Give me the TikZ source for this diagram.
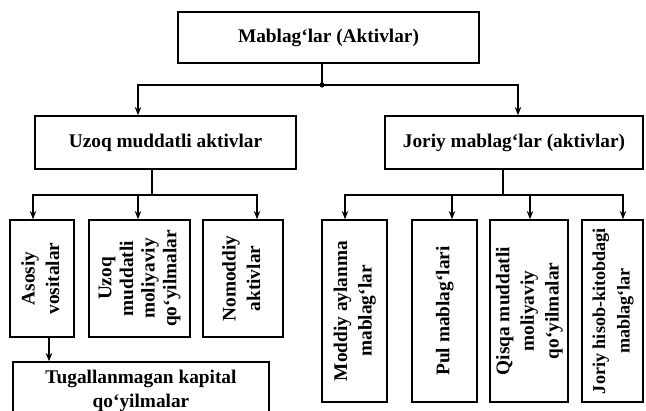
\documentclass[tikz,border=0pt]{standalone}
\usepackage{fontspec}
\setmainfont{Liberation Serif}
\usepackage{tikz}
\usetikzlibrary{arrows.meta,positioning}
\newcommand{\vtext}[1]{\rotatebox{90}{\begin{tabular}{@{}c@{}}#1\end{tabular}}}

\begin{document}
\begin{tikzpicture}[
  every node/.style={font=\bfseries\fontsize{16.5}{20}\selectfont},
  hbox/.style={draw,line width=1.3pt,inner sep=0pt,align=center},
  vbox/.style={draw,line width=1.3pt,inner sep=0pt,font=\bfseries\fontsize{16.5}{21}\selectfont},
  ln/.style={line width=1.2pt},
  arr/.style={->,>={Stealth[length=7pt,width=5.5pt]},line width=1.2pt}
]
\useasboundingbox (0,0) rectangle (19.38,-12.3);
\clip (0,0) rectangle (19.38,-12.3);

\node[hbox,minimum width=9.03cm,minimum height=1.53cm] (top) at (9.855,-1.125) {Mablag‘lar (Aktivlar)};
\node[hbox,minimum width=7.83cm,minimum height=1.59cm] (uzoq) at (4.965,-4.275) {Uzoq muddatli aktivlar};
\node[hbox,minimum width=7.74cm,minimum height=1.59cm] (joriy) at (15.42,-4.275) {Joriy mablag‘lar (aktivlar)};

% Uzoq muddatli
\node[vbox,minimum width=1.92cm,minimum height=3.51cm] (asosiy) at (1.26,-8.355) {\vtext{Asosiy\\vositalar}};
\node[vbox,minimum width=3.03cm,minimum height=3.51cm,font=\bfseries\fontsize{16.5}{18.5}\selectfont] (umq) at (4.185,-8.355) {\vtext{Uzoq\\muddatli\\moliyaviy\\qo‘yilmalar}};
\node[vbox,minimum width=2.4cm,minimum height=3.51cm] (nomoddiy) at (7.29,-8.355) {\vtext{Nomoddiy\\aktivlar}};
\node[hbox,minimum width=7.68cm,minimum height=1.74cm] (tug) at (4.23,-11.73) {Tugallanmagan kapital\\qo‘yilmalar};

% Joriy
\node[vbox,minimum width=1.95cm,minimum height=5.46cm] (moddiy) at (10.635,-9.33) {\vtext{Moddiy aylanma\\mablag‘lar}};
\node[vbox,minimum width=1.95cm,minimum height=5.46cm] (pul) at (13.335,-9.33) {\vtext{Pul mablag‘lari}};
\node[vbox,minimum width=2.34cm,minimum height=5.46cm] (qmq) at (15.87,-9.33) {\vtext{Qisqa muddatli\\moliyaviy\\qo‘yilmalar}};
\node[vbox,minimum width=1.83cm,minimum height=5.46cm,font=\bfseries\fontsize{15.5}{21}\selectfont] (hisob) at (18.375,-9.33) {\vtext{Joriy hisob-kitobdagi\\mablag‘lar}};

\coordinate (j0) at (9.66,-2.55);
\coordinate (j1) at (4.56,-5.85);
\coordinate (j2) at (15.09,-5.85);

\draw[ln] (top.south -| j0) -- (j0);
\fill (j0) circle (2.2pt);
\draw[arr] (j0) -| ([xshift=-0.825cm]uzoq.north);
\draw[arr] (j0) -| ([xshift=0.12cm]joriy.north);

\draw[ln] (uzoq.south -| j1) -- (j1);
\draw[arr] (j1) -| ([xshift=-0.27cm]asosiy.north);
\draw[arr] (j1) -| ([xshift=-0.045cm]umq.north);
\draw[arr] (j1) -| ([xshift=0.42cm]nomoddiy.north);
\draw[arr] ([xshift=0.21cm]asosiy.south) -- ([xshift=0.21cm]asosiy.south |- tug.north);

\draw[ln] (joriy.south -| j2) -- (j2);
\draw[arr] (j2) -| ([xshift=-0.285cm]moddiy.north);
\draw[arr] (j2) -| ([xshift=0.225cm]pul.north);
\draw[arr] (j2) -| ([xshift=0.03cm]qmq.north);
\draw[arr] (j2) -| ([xshift=0.315cm]hisob.north);
\end{tikzpicture}
\end{document}
